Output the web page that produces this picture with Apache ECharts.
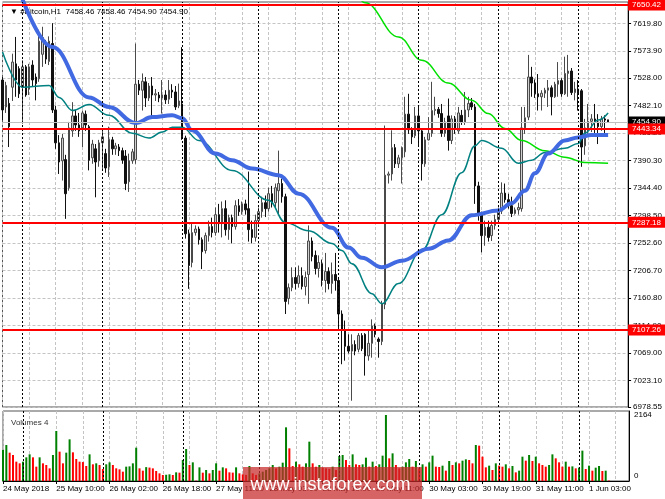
<!DOCTYPE html>
<html><head><meta charset="utf-8">
<script src="https://cdn.jsdelivr.net/npm/echarts@6/dist/echarts.min.js"></script>
<style>html,body{margin:0;padding:0;background:#fff}#c{width:665px;height:499px}</style>
</head><body><div id="c"></div>
<script>
// ---------- DATA ----------
const opens = [7525,7480,7486,7513,7552,7544,7513,7547,7510,7550,7530,7527,7568,7586,7556,7586,7475,7420,7390,7392,
7345,7440,7465,7450,7445,7468,7447,7395,7410,7390,7420,7402,7380,7425,7410,7413,7407,7398,7355,7390,
7392,7518,7508,7522,7495,7515,7500,7500,7495,7500,7493,7508,7505,7482,7485,7428,7268,7220,7270,7276,
7258,7240,7265,7280,7270,7300,7285,7310,7275,7295,7280,7315,7305,7318,7310,7275,7262,7290,7305,7320,
7310,7335,7320,7340,7352,7330,7160,7178,7195,7185,7198,7180,7200,7256,7232,7210,7218,7190,7205,7185,
7200,7190,7134,7108,7080,7072,7083,7075,7098,7100,7064,7085,7114,7092,7088,7150,7366,7368,7412,7385,
7395,7405,7468,7442,7432,7465,7440,7385,7425,7436,7474,7476,7469,7436,7465,7424,7460,7440,7466,7455,
7475,7487,7480,7348,7302,7265,7279,7265,7282,7292,7306,7336,7325,7315,7302,7308,7310,7445,7463,7530,
7520,7502,7497,7503,7508,7512,7497,7518,7524,7502,7536,7540,7504,7510,7507,7415,7445,7456,7460,7455,
7447,7460,7458.46];
const closes = [7475,7516,7447,7555,7525,7502,7547,7500,7547,7525,7519,7590,7596,7560,7590,7475,7420,7388,7428,7335,
7445,7465,7450,7440,7470,7450,7391,7418,7388,7420,7430,7378,7426,7410,7415,7407,7391,7352,7390,7405,
7518,7508,7523,7495,7515,7500,7502,7495,7500,7492,7508,7505,7480,7490,7430,7268,7215,7270,7276,7258,
7238,7265,7280,7270,7300,7285,7310,7275,7295,7280,7315,7305,7318,7308,7275,7262,7290,7305,7320,7310,
7335,7320,7345,7352,7330,7155,7178,7195,7185,7198,7180,7195,7256,7230,7210,7220,7190,7205,7185,7200,
7190,7134,7108,7080,7072,7083,7072,7098,7076,7064,7085,7114,7100,7088,7151,7366,7368,7412,7385,7395,
7412,7468,7442,7430,7465,7440,7385,7425,7436,7474,7476,7469,7436,7455,7424,7460,7445,7470,7455,7475,
7486,7480,7348,7302,7265,7279,7262,7282,7292,7305,7336,7325,7315,7302,7308,7312,7445,7462,7530,7520,
7502,7497,7503,7508,7512,7497,7518,7524,7502,7536,7540,7504,7510,7502,7413,7445,7456,7460,7455,7447,
7460,7458,7454.90];
const lows = [7458,7470,7413,7490,7497,7495,7452,7497,7500,7515,7491,7522,7547,7552,7550,7470,7410,7368,7357,7293,
7340,7430,7440,7430,7413,7440,7374,7385,7329,7380,7374,7370,7363,7400,7400,7398,7385,7341,7338,7385,
7385,7500,7474,7480,7490,7463,7490,7488,7469,7485,7485,7495,7475,7478,7425,7260,7176,7212,7265,7250,
7209,7235,7255,7262,7265,7270,7262,7265,7258,7252,7275,7298,7300,7300,7255,7252,7255,7280,7295,7296,
7305,7312,7310,7300,7320,7134,7150,7172,7175,7178,7175,7165,7151,7222,7200,7195,7180,7170,7175,7168,
7173,7106,7050,7056,7068,6989,7065,7070,7072,7031,7056,7061,7095,7061,7082,7142,7352,7357,7378,7378,
7352,7396,7435,7418,7428,7413,7357,7380,7424,7430,7466,7462,7430,7430,7407,7418,7435,7435,7450,7450,
7463,7475,7318,7290,7237,7248,7255,7256,7275,7285,7301,7320,7310,7296,7300,7300,7305,7435,7458,7497,
7495,7474,7474,7495,7480,7466,7495,7497,7497,7500,7497,7500,7491,7474,7380,7400,7435,7438,7430,7418,
7440,7435,7454.90];
const highs = [7530,7522,7495,7569,7597,7548,7558,7550,7552,7558,7536,7609,7614,7592,7598,7620,7482,7433,7435,7400,
7455,7488,7475,7470,7474,7474,7450,7425,7418,7425,7440,7410,7447,7430,7420,7418,7412,7408,7402,7410,
7586,7525,7536,7530,7520,7530,7510,7505,7525,7508,7525,7518,7515,7519,7580,7432,7275,7285,7282,7280,
7262,7270,7290,7295,7312,7318,7322,7324,7300,7300,7324,7326,7322,7325,7372,7290,7300,7312,7330,7332,
7345,7348,7352,7407,7360,7335,7185,7212,7212,7215,7212,7205,7282,7262,7240,7232,7225,7236,7212,7220,
7236,7195,7140,7123,7100,7100,7090,7102,7102,7102,7106,7125,7118,7095,7156,7449,7372,7441,7418,7400,
7414,7497,7502,7446,7480,7483,7442,7430,7463,7522,7497,7480,7485,7462,7494,7466,7465,7480,7475,7505,
7497,7495,7485,7355,7305,7290,7290,7290,7300,7312,7354,7352,7335,7330,7312,7320,7480,7480,7567,7547,
7526,7535,7508,7512,7525,7516,7522,7555,7528,7564,7567,7545,7522,7525,7510,7460,7485,7468,7485,7468,
7465,7466,7458.46];
const volumes = [1016,1180,929,853,634,579,634,776,874,776,470,776,579,525,415,853,1640,962,579,929,
1366,940,721,634,620,492,874,547,579,525,393,547,612,525,415,383,306,470,480,579,
1093,415,339,455,440,415,328,251,197,205,219,197,284,273,689,1049,525,612,10,448,
273,361,251,361,579,339,448,415,284,275,448,251,219,200,492,251,200,251,306,361,
415,525,415,470,601,1760,1071,492,634,547,470,579,1290,579,470,525,437,415,400,470,
361,820,853,689,525,874,547,525,547,765,470,634,492,547,831,2164,743,907,525,415,
470,612,721,470,656,415,547,470,612,831,470,460,503,339,656,525,612,579,667,710,
689,579,1180,1159,798,448,503,361,579,503,470,547,415,492,284,339,798,667,853,656,
798,579,525,470,525,874,743,612,470,634,470,480,415,437,995,393,503,339,437,492,
328,339,15];
// moving averages: [bar index, price]
const maBlue = [[5,7675],[15,7580],[26,7496],[32,7480],[40,7453],[45,7463],[51,7466],[54,7461],[57,7441],[64,7402],
[69,7391],[75,7377],[83,7366],[89,7335],[99,7278],[104,7245],[108,7228],[114,7212],[120,7223],[128,7243],
[134,7257],[141,7299],[149,7307],[153,7319],[157,7340],[160,7369],[164,7402],[169,7424],[173,7429],[177,7433],[182,7433]];
const maTeal = [[0,7572],[6,7513],[14,7516],[17,7496],[21,7474],[26,7484],[32,7466],[39,7436],[44,7428],[48,7438],
[51,7446],[54,7446],[59,7424],[69,7374],[80,7324],[85,7287],[92,7273],[99,7252],[102,7240],[105,7218],
[111,7168],[114,7151],[119,7185],[126,7240],[132,7300],[138,7370],[142,7415],[144,7424],[150,7411],[155,7386],
[159,7391],[163,7404],[169,7411],[173,7419],[175,7436],[179,7458],[182,7470]];
const maGreen = [[106,7675],[109,7654],[119,7597],[126,7558],[134,7520],[141,7491],[146,7469],[151,7444],[156,7424],
[163,7407],[169,7396],[175,7387],[182,7386]];
const levels = [7650.42, 7443.34, 7287.18, 7107.26];
const bidPrice = 7454.90;
const yTicks = [6978.55,7023.10,7069.00,7114.90,7160.80,7206.70,7252.60,7298.50,7344.40,7390.30,7436.20,7482.10,7528.00,7573.90,7619.80];
const volTicks = [0, 2164];
const xTickLabels = ['24 May 2018','25 May 10:00','26 May 02:00','26 May 18:00','27 May 11:00','28 May 03:00',
'28 May 19:00','29 May 11:00','30 May 03:00','30 May 19:00','31 May 11:00','1 Jun 03:00'];
const header = '\u25BC #Bitcoin,H1  7458.46 7458.46 7454.90 7454.90';
const volTitle = 'Volumes 4';
const watermark = 'www.instaforex.com';

// ---------- categories: hourly bars, one hour missing on 27 May ----------
const slotCount = 189;
const months = ['Jan','Feb','Mar','Apr','May','Jun','Jul','Aug','Sep','Oct','Nov','Dec'];
const categories = [], midnights = [];
(function(){
  let t = Date.UTC(2018,4,24,18);
  const skip = Date.UTC(2018,4,27,5);
  while (categories.length < slotCount) {
    if (t !== skip) {
      const d = new Date(t);
      const s = d.getUTCDate()+' '+months[d.getUTCMonth()]+' '+String(d.getUTCHours()).padStart(2,'0')+':00';
      if (d.getUTCHours() === 0 && categories.length < opens.length) midnights.push(s);
      categories.push(s);
    }
    t += 3600000;
  }
})();
const candles = opens.map((o,i)=>[o, closes[i], lows[i], highs[i]]);
const volData = volumes.map((v,i)=>({value:v, itemStyle:{color:(i===0||v>volumes[i-1])?'#008000':'#ff0000'}}));

const FONT = 'Tahoma, "Liberation Sans", Arial, sans-serif';
const gridLine = {show:true, interval:(i)=>i%8===0, lineStyle:{color:'#c4c4c4', type:[3,2], width:1}};
const sepLines = midnights.map(m=>({xAxis:m, lineStyle:{color:'#000', type:[2,2], width:1}, label:{show:false}}));
const priceLabel = (bg)=>({show:true, position:'end', distance:0, backgroundColor:bg, color:'#fff',
  fontSize:8, fontFamily:FONT, padding:[2,6,1,4], formatter:(p)=>Number(p.value).toFixed(2)});

const chart = echarts.init(document.getElementById('c'));
chart.setOption({
  animation:false,
  backgroundColor:'#fff',
  textStyle:{fontFamily:FONT},
  title:[
    {text:header, left:5, top:3, z:1, textStyle:{fontSize:8, fontWeight:'normal', color:'#000', fontFamily:FONT}},
    {text:volTitle, left:6, top:414, z:1, textStyle:{fontSize:8, fontWeight:'normal', color:'#333', fontFamily:FONT}}
  ],
  grid:[
    {left:2.5, right:36, top:2, height:405, show:true, borderColor:'#555', borderWidth:1},
    {left:2.5, right:36, top:411, bottom:18, show:true, borderColor:'#555', borderWidth:1}
  ],
  xAxis:[
    {type:'category', gridIndex:0, data:categories, boundaryGap:false,
     axisLine:{show:false}, axisTick:{show:false}, axisLabel:{show:false}, splitLine:gridLine},
    {type:'category', gridIndex:1, data:categories, boundaryGap:false,
     axisLine:{show:true, lineStyle:{color:'#000'}},
     axisTick:{show:true, length:3, alignWithLabel:true, interval:(i)=>i%16===0 && i/16<xTickLabels.length, lineStyle:{color:'#000'}},
     axisLabel:{show:true, interval:(i)=>i%16===0 && i/16<xTickLabels.length, formatter:(v,i)=>xTickLabels[i/16],
       align:'left', margin:4, fontSize:8, color:'#000', fontFamily:FONT},
     splitLine:gridLine}
  ],
  yAxis:[
    {type:'value', gridIndex:0, position:'right', min:6978.55, max:7655.4,
     axisLine:{show:true, lineStyle:{color:'#000'}},
     axisTick:{show:true, length:3, customValues:yTicks, lineStyle:{color:'#000'}},
     axisLabel:{customValues:yTicks, formatter:(v)=>v.toFixed(2), color:'#000', fontSize:8, margin:5, fontFamily:FONT},
     splitLine:{show:true, lineStyle:{color:'#c4c4c4', type:[3,2], width:1}}},
    {type:'value', gridIndex:1, position:'right', min:0, max:2295,
     axisLine:{show:true, lineStyle:{color:'#000'}},
     axisTick:{show:false, customValues:volTicks},
     axisLabel:{customValues:volTicks, color:'#000', fontSize:8, margin:5, fontFamily:FONT,
       formatter:(v)=> v===0 ? '{z|0}' : String(v), rich:{z:{padding:[0,0,10,0], fontSize:8, color:'#000'}}},
     splitLine:{show:false}}
  ],
  series:[
    {type:'candlestick', xAxisIndex:0, yAxisIndex:0, data:candles, barWidth:2, clip:true,
     itemStyle:{color:'#d0d0d0', color0:'#101010', borderColor:'#4a4a4a', borderColor0:'#101010', borderWidth:1},
     markLine:{silent:true, symbol:['none','none'], animation:false,
       data:[
         ...sepLines,
         {yAxis:bidPrice, lineStyle:{color:'#c0c0c0', type:'solid', width:1}, label:priceLabel('#000')},
         ...levels.map(v=>({yAxis:v, lineStyle:{color:'#ff0000', type:'solid', width:2}, label:priceLabel('#ff0000')}))
       ]}},
    {type:'line', xAxisIndex:0, yAxisIndex:0, data:maGreen, showSymbol:false, smooth:0.4, smoothMonotone:'x', clip:true,
     lineStyle:{color:'#00e000', width:1.5}},
    {type:'line', xAxisIndex:0, yAxisIndex:0, data:maTeal, showSymbol:false, smooth:0.4, smoothMonotone:'x', clip:true,
     lineStyle:{color:'#008080', width:1.5}},
    {type:'line', xAxisIndex:0, yAxisIndex:0, data:maBlue, showSymbol:false, smooth:0.4, smoothMonotone:'x', clip:true,
     lineStyle:{color:'#4169e1', width:4}},
    {type:'bar', xAxisIndex:1, yAxisIndex:1, data:volData, barWidth:2,
     markLine:{silent:true, symbol:['none','none'], animation:false, data:sepLines}}
  ],
  graphic:[
    {type:'rect', left:243, top:467, z:100, zlevel:1, silent:true,
     shape:{width:179, height:32}, style:{fill:'rgba(200,40,40,0.72)'}},
    {type:'text', left:'center', top:476, z:101, zlevel:1, silent:true,
     x:0, style:{text:watermark, fill:'#ffffff', fontSize:18, fontFamily:'"Liberation Sans", Arial, sans-serif'}}
  ]
});
// centre the watermark text over its box
chart.setOption({graphic:[{}, {left:243 + 179/2 - 82}]});
</script>
</body></html>
